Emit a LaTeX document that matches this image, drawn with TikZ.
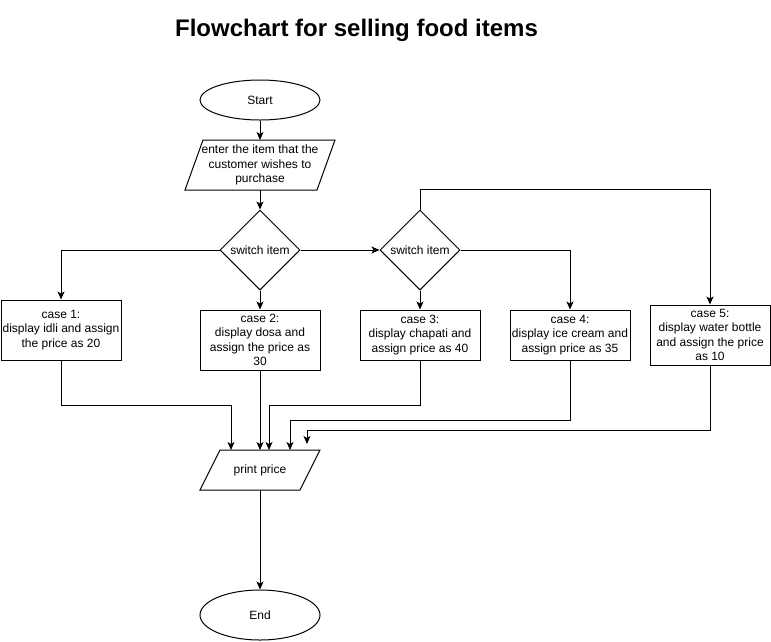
\documentclass[tikz,border=0pt]{standalone}
\usepackage{fontspec}
\setmainfont{Liberation Sans}
\usetikzlibrary{shapes.geometric,arrows.meta}
\newcommand{\slantbox}[2]{\draw ([xshift=#2]#1.north west) -- (#1.north east) -- ([xshift=-#2]#1.south east) -- (#1.south west) -- cycle;}
\begin{document}
\begin{tikzpicture}[x=1pt,y=-1pt,line width=1pt,font=\fontsize{12}{14.4}\selectfont,
  term/.style={ellipse,draw,minimum width=120pt,minimum height=#1,inner sep=0pt},
  io/.style 2 args={rectangle,minimum width=#1,minimum height=#2,inner sep=0pt,outer sep=0pt,align=center},
  switch/.style={diamond,draw,minimum width=80pt,minimum height=80pt,inner sep=0pt},
  casebox/.style={rectangle,draw,minimum width=120pt,minimum height=#1,inner sep=1pt,align=center},
  arr/.style={-{Stealth[length=8pt,width=7pt,inset=2pt]}}]
\useasboundingbox (0,0) rectangle (771,641);
\node[font=\bfseries\fontsize{24}{28}\selectfont] (title) at (356.5,30) {Flowchart for selling food items};
\node[term=40pt] (start) at (260,100) {Start};
\node[io={150pt}{50pt}] (input) at (260,165) {enter the item that the\\customer wishes to\\purchase};
\slantbox{input}{18pt}
\node[switch] (sw1) at (260,250) {switch item};
\node[switch] (sw2) at (420,250) {switch item};
\foreach \n/\x/\y/\h/\t in %
{c1/61/330/60/{case 1:\\display idli and assign\\the price as 20},
 c2/260/340/60/{case 2:\\display dosa and\\assign the price as\\30},
 c3/420/335/50/{case 3:\\display chapati and\\assign price as 40},
 c4/570/335/50/{case 4:\\display ice cream and\\assign price as 35},
 c5/710/335/60/{case 5:\\display water bottle\\and assign the price\\as 10}} {
   \node[casebox=\h pt] (\n) at (\x,\y) {\t};
}
\node[io={120pt}{40pt}] (print) at (260,470) {print price};
\slantbox{print}{20pt}
\node[term=50pt] (end) at (260,615) {End};
\coordinate (c5in) at (307,444);
\draw[arr] (start) -- (input);
\draw[arr] (input) -- (sw1);
\draw[arr] (sw1.west) -| (c1.north);
\draw[arr] (sw1.east) -- (sw2.west);
\draw[arr] (sw1.south) -- (c2.north);
\draw[arr] (sw2.south) -- (c3.north);
\draw[arr] (sw2.east) -| (c4.north);
\draw[arr] (sw2.north) -- ++(0,-20) -| (c5.north);
\draw[arr] (c1.south) -- ++(0,45) -| ([xshift=-29pt]print.north);
\draw[arr] (c2.south) -- (print.north);
\draw[arr] (c3.south) -- ++(0,45) -| ([xshift=9pt]print.north);
\draw[arr] (c4.south) -- ++(0,60) -| ([xshift=30pt]print.north);
\draw[arr] (c5.south) -- ++(0,65) -| (c5in);
\draw[arr] (print.south) -- (end.north);
\end{tikzpicture}
\end{document}
